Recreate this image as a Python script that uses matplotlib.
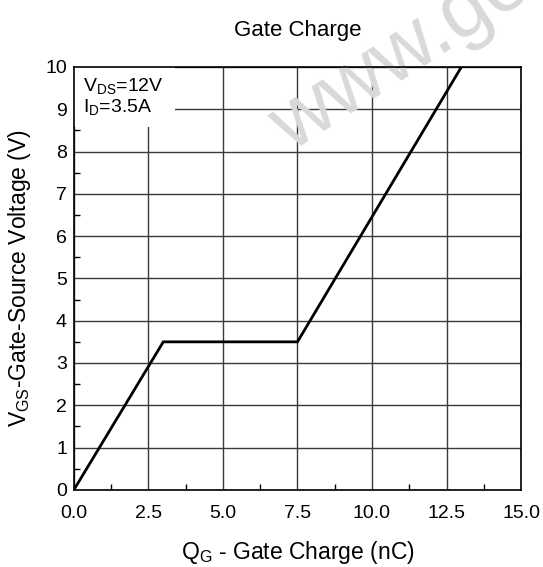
import matplotlib.pyplot as plt
from matplotlib.ticker import MultipleLocator
from matplotlib.patches import Rectangle

plt.rcParams['font.family'] = ['Liberation Sans', 'DejaVu Sans']

# gate charge curve (nC, V)
qg = [0.0, 3.0, 7.5, 13.0]
vgs = [0.0, 3.5, 3.5, 10.0]

x_ticks = [0.0, 2.5, 5.0, 7.5, 10.0, 12.5, 15.0]
y_ticks = [0, 1, 2, 3, 4, 5, 6, 7, 8, 9, 10]

fig = plt.figure(figsize=(5.43, 5.67), dpi=100)
ax = fig.add_axes([0.136, 0.136, 0.8236, 0.746])

ax.plot(qg, vgs, color='black', lw=2.0, zorder=4, solid_joinstyle='miter')

ax.set_xlim(0, 15)
ax.set_ylim(0, 10)
ax.set_xticks(x_ticks)
ax.set_xticklabels(['%.1f' % v for v in x_ticks])
ax.set_yticks(y_ticks)
ax.xaxis.set_minor_locator(MultipleLocator(1.25))
ax.yaxis.set_minor_locator(MultipleLocator(0.5))
ax.grid(True, which='major', color='#3a3a3a', lw=1.0, zorder=1)
ax.set_axisbelow(True)
ax.tick_params(which='major', direction='in', labelsize=14, length=0)
ax.tick_params(axis='x', which='major', pad=11)
ax.tick_params(axis='y', which='major', pad=5)
ax.tick_params(which='minor', direction='in', length=4, width=1, color='black')
for s in ax.spines.values():
    s.set_linewidth(1.2)
    s.set_color('black')
    s.set_zorder(5)

# watermark (cut by the top edge, as in the source)
ax.text(0.535, 0.73, 'www.goodark.com', transform=fig.transFigure, rotation=33,
        rotation_mode='anchor', ha='left', va='baseline', fontsize=60,
        color='#d9d9d9', clip_on=False, zorder=3)

# white box behind the test conditions
ax.add_patch(Rectangle((0, 0.858), 0.226, 0.142, transform=ax.transAxes,
                       facecolor='white', edgecolor='none', zorder=3.5))
ax.text(0.3, 9.78, '$\\mathregular{V_{DS}}$=12V\n$\\mathregular{I_{D}}$=3.5A',
        fontsize=14, va='top', ha='left', linespacing=1.05, zorder=4.5)

ax.set_title('Gate Charge', fontsize=16, pad=22)
ax.set_xlabel('$\\mathregular{Q_G}$ - Gate Charge (nC)', fontsize=16.5, labelpad=12)
ax.set_ylabel('$\\mathregular{V_{GS}}$-Gate-Source Voltage (V)', fontsize=16.5, labelpad=9)

fig.savefig('out.png', dpi=100)
